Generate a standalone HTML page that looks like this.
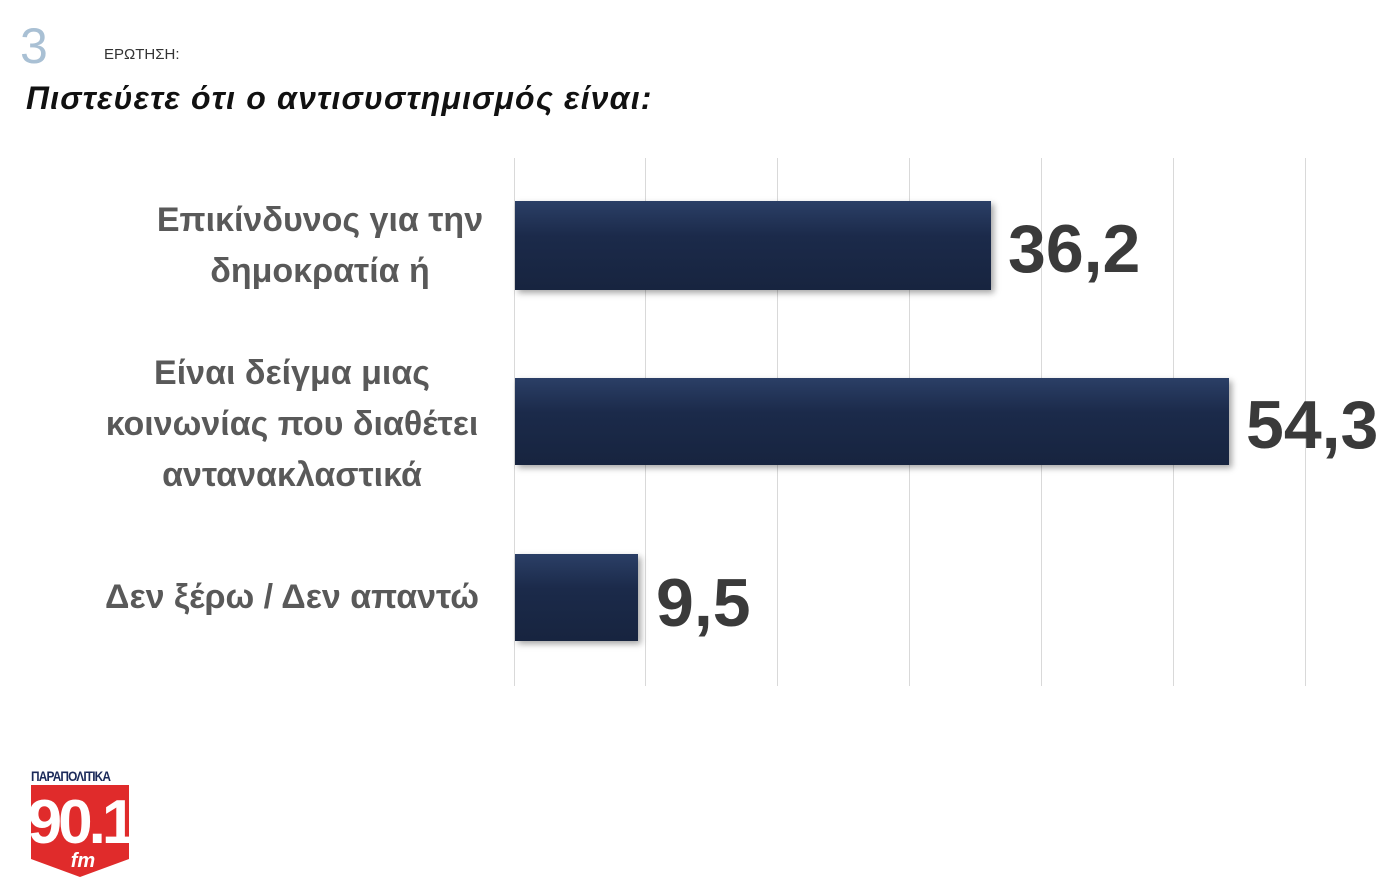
<!DOCTYPE html>
<html><head><meta charset="utf-8"><style>
body{margin:0;background:#fff;width:1390px;height:892px;overflow:hidden;position:relative;font-family:"Liberation Sans","DejaVu Sans",sans-serif}
.a{position:absolute}
.lab{position:absolute;color:#595959;font-size:34px;font-weight:bold;text-align:center;line-height:51px;width:460px;left:62px}
.bar{position:absolute;left:515px;background:linear-gradient(#2b3f66,#1b2a4a 40%,#17243f);box-shadow:3px 3px 6px rgba(0,0,0,.35)}
.val{position:absolute;font-size:68px;font-weight:bold;color:#3a3a3a}
.g{position:absolute;top:158px;height:528px;width:1px;background:#d9d9d9}
</style></head><body>
<div class="a" style="left:20px;top:16px;font-size:50px;color:#a9c0d4;font-weight:normal;line-height:60px">3</div>
<div class="a" style="left:104px;top:46px;font-size:15px;color:#333">ΕΡΩΤΗΣΗ:</div>
<div class="a" style="left:26px;top:80px;font-size:32px;font-weight:bold;font-style:italic;color:#111;letter-spacing:1.2px">Πιστεύετε ότι ο αντισυστημισμός είναι:</div>
<div class="g" style="left:514px"></div><div class="g" style="left:645px"></div><div class="g" style="left:777px"></div><div class="g" style="left:909px"></div><div class="g" style="left:1041px"></div><div class="g" style="left:1173px"></div><div class="g" style="left:1305px"></div>
<div class="bar" style="top:201px;width:476px;height:89px"></div>
<div class="bar" style="top:378px;width:714px;height:87px"></div>
<div class="bar" style="top:554px;width:123px;height:87px"></div>
<div class="val" style="left:1008px;top:210px">36,2</div>
<div class="val" style="left:1246px;top:386px">54,3</div>
<div class="val" style="left:656px;top:564px">9,5</div>
<div class="lab" style="top:195px;left:90px">Επικίνδυνος για την<br>δημοκρατία ή</div>
<div class="lab" style="top:348px">Είναι δείγμα μιας<br>κοινωνίας που διαθέτει<br>αντανακλαστικά</div>
<div class="lab" style="top:572px">Δεν ξέρω / Δεν απαντώ</div>
<div class="a" style="left:31px;top:768px;font-size:14px;font-weight:bold;color:#1b2a5a;letter-spacing:-1px;transform:scaleX(.85);transform-origin:left">ΠΑΡΑΠΟΛΙΤΙΚΑ</div>
<svg class="a" style="left:31px;top:785px" width="98" height="92"><polygon points="0,0 98,0 98,74 49,92 0,74" fill="#e02b2b"/>
<text x="49" y="58" text-anchor="middle" font-family="Liberation Sans" font-weight="bold" font-size="62" fill="#fff" letter-spacing="-4">90.1</text>
<text x="52" y="82" text-anchor="middle" font-family="Liberation Sans" font-weight="bold" font-style="italic" font-size="20" fill="#fff">fm</text></svg>
</body></html>
